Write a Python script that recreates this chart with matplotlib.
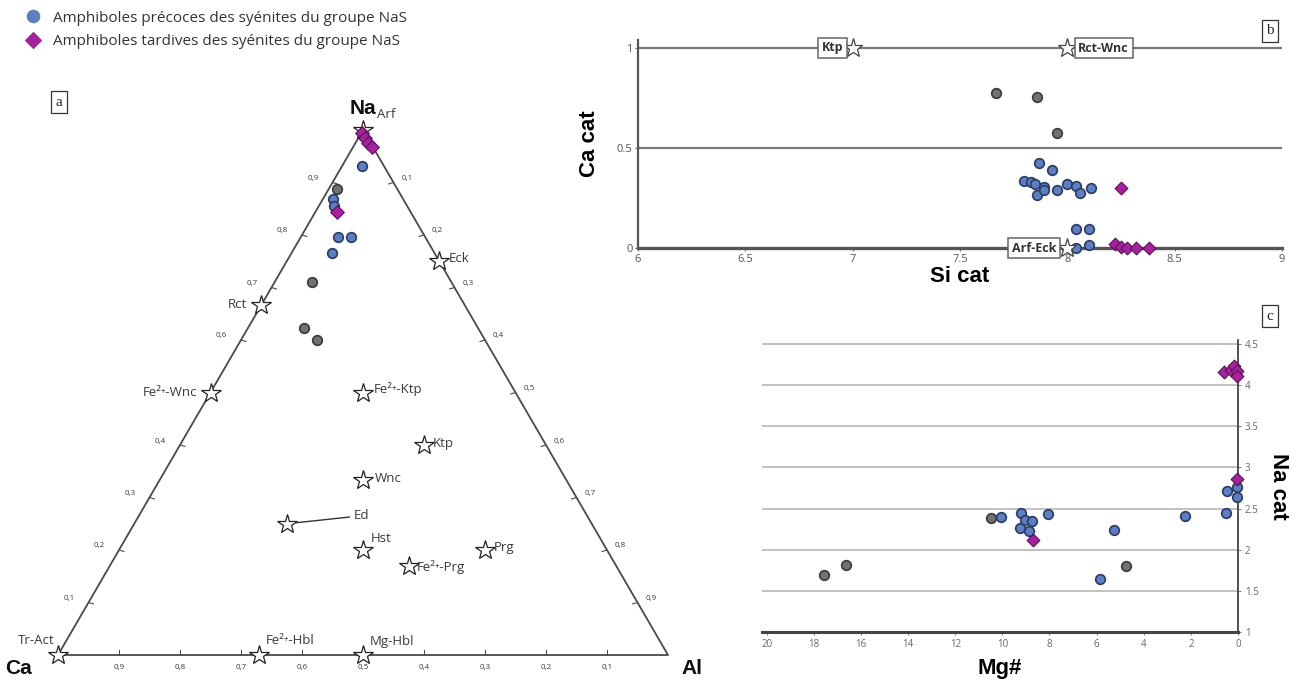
import numpy as np
import matplotlib
matplotlib.use("Agg")
import matplotlib.pyplot as plt
from matplotlib.lines import Line2D

plt.rcParams['font.family'] = ['Open Sans', 'DejaVu Sans']

# ---------------- data ----------------
# Ternary (a): fractions Na, Ca, Al
pre_na = [0.931, 0.869, 0.855, 0.796, 0.796, 0.766]
pre_ca = [0.036, 0.115, 0.120, 0.143, 0.122, 0.168]
pre_al = [0.033, 0.016, 0.025, 0.061, 0.082, 0.066]
gry_na = [0.888, 0.710, 0.623, 0.600]
gry_ca = [0.099, 0.229, 0.285, 0.275]
gry_al = [0.013, 0.061, 0.092, 0.125]
tar_na = [0.994, 0.985, 0.975, 0.968, 0.844]
tar_ca = [0.005, 0.004, 0.004, 0.001, 0.121]
tar_al = [0.001, 0.011, 0.021, 0.031, 0.035]

em_names = ['Arf', 'Eck', 'Rct', 'Fe²⁺-Wnc', 'Fe²⁺-Ktp', 'Ktp', 'Wnc', 'Ed',
            'Hst', 'Prg', 'Fe²⁺-Prg', 'Tr-Act', 'Fe²⁺-Hbl', 'Mg-Hbl']
em_na = [1.0, 0.75, 0.667, 0.5, 0.5, 0.4, 0.333, 0.25, 0.2, 0.2, 0.17, 0.0, 0.0, 0.0]
em_ca = [0.0, 0.0, 0.333, 0.5, 0.25, 0.2, 0.333, 0.5, 0.4, 0.2, 0.34, 1.0, 0.67, 0.5]
em_al = [0.0, 0.25, 0.0, 0.0, 0.25, 0.4, 0.333, 0.25, 0.4, 0.6, 0.49, 0.0, 0.33, 0.5]
tern_ticks = [0.1, 0.2, 0.3, 0.4, 0.5, 0.6, 0.7, 0.8, 0.9]

# Panel b: Si cat vs Ca cat
b_pre_si = [7.87, 7.93, 7.80, 7.83, 7.85, 7.86, 7.89, 7.89, 7.95, 8.00, 8.04, 8.06, 8.11, 8.04, 8.10, 8.04, 8.10]
b_pre_ca = [0.427, 0.392, 0.333, 0.330, 0.322, 0.263, 0.305, 0.288, 0.292, 0.318, 0.308, 0.275, 0.300, 0.093, 0.093, 0.0, 0.017]
b_gry_si = [7.67, 7.86, 7.95]
b_gry_ca = [0.777, 0.755, 0.575]
b_tar_si = [8.25, 8.22, 8.25, 8.28, 8.32, 8.38]
b_tar_ca = [0.30, 0.02, 0.005, 0.0, 0.0, 0.0]
b_ref_names = ['Ktp', 'Rct-Wnc', 'Arf-Eck']
b_ref_si = [7.0, 8.0, 8.0]
b_ref_ca = [1.0, 1.0, 0.0]
b_xticks = [6, 6.5, 7, 7.5, 8, 8.5, 9]
b_yticks = [0, 0.5, 1]

# Panel c: Mg# vs Na cat
c_pre_mg = [5.84, 5.25, 10.07, 9.21, 9.24, 9.06, 8.75, 8.86, 8.08, 2.26, 0.53, 0.45, 0.05, 0.05]
c_pre_na = [1.65, 2.24, 2.40, 2.45, 2.27, 2.36, 2.35, 2.23, 2.43, 2.41, 2.45, 2.72, 2.76, 2.64]
c_gry_mg = [17.55, 16.63, 4.75, 10.49]
c_gry_na = [1.69, 1.81, 1.80, 2.38]
c_tar_mg = [8.72, 0.05, 0.60, 0.30, 0.18, 0.05, 0.05]
c_tar_na = [2.12, 2.86, 4.16, 4.19, 4.23, 4.17, 4.11]
c_xticks = [20, 18, 16, 14, 12, 10, 8, 6, 4, 2, 0]
c_yticks = [1, 1.5, 2, 2.5, 3, 3.5, 4, 4.5]

# ---------------- styles ----------------
BLUE, BLUE_E = '#5b7fc0', '#2b3a66'
GRAY, GRAY_E = '#727272', '#3a3a3a'
MAG, MAG_E = '#a4239c', '#5c0f57'
TXT = '#3a3a3a'
W, H = 1301, 684
BOLD = ['Liberation Sans', 'DejaVu Sans']

fig = plt.figure(figsize=(W / 100, H / 100), dpi=100)
fig.patch.set_facecolor('white')


def fax(l, b, r, t):
    return [l / W, 1 - b / H, (r - l) / W, (b - t) / H]


def tern(na, ca, al):
    na, ca, al = np.asarray(na, float), np.asarray(ca, float), np.asarray(al, float)
    s = na + ca + al
    return (al + na / 2) / s, (na / s) * np.sqrt(3) / 2


# ---------------- panel a: ternary ----------------
axa = fig.add_axes(fax(58, 655, 668, 130))
axa.set_xlim(0, 1)
axa.set_ylim(0, np.sqrt(3) / 2)
axa.axis('off')

vx, vy = tern([1, 0, 0, 1], [0, 1, 0, 0], [0, 0, 1, 0])
axa.plot(vx, vy, color='#4a4a4a', lw=1.3, clip_on=False, zorder=1)

tk = 0.008
for v in tern_ticks:
    lab = ('%.1f' % v).replace('.', ',')
    # left edge (Na fraction)
    x, y = tern(v, 1 - v, 0)
    axa.plot([x, x + tk], [y, y - tk * 0.3], color='#4a4a4a', lw=0.8, clip_on=False)
    if abs(v - 0.5) > 1e-6:
        axa.annotate(lab, (x, y), xytext=(-14, 4), textcoords='offset pixels',
                     fontsize=5.8, color=TXT, ha='right', va='center')
    # right edge (Al fraction)
    x, y = tern(1 - v, 0, v)
    axa.plot([x, x - tk], [y, y - tk * 0.3], color='#4a4a4a', lw=0.8, clip_on=False)
    axa.annotate(lab, (x, y), xytext=(8, 4), textcoords='offset pixels',
                 fontsize=5.8, color=TXT, ha='left', va='center')
    # bottom edge (Ca fraction)
    x, y = tern(0, v, 1 - v)
    axa.plot([x, x], [y, y + tk], color='#4a4a4a', lw=0.8, clip_on=False)
    axa.annotate(lab, (x, y), xytext=(0, -13), textcoords='offset pixels',
                 fontsize=5.8, color=TXT, ha='center', va='center')

label_off = {
    'Arf': (14, 16, 'left'), 'Eck': (9, 3, 'left'), 'Rct': (-14, 0, 'right'),
    'Fe²⁺-Wnc': (-13, 0, 'right'), 'Fe²⁺-Ktp': (11, 3, 'left'),
    'Ktp': (9, 1, 'left'), 'Wnc': (12, 1, 'left'), 'Ed': (67, 8, 'left'),
    'Hst': (8, 12, 'left'), 'Prg': (9, 2, 'left'), 'Fe²⁺-Prg': (8, -1, 'left'),
    'Tr-Act': (-4, 15, 'right'), 'Fe²⁺-Hbl': (6, 14, 'left'), 'Mg-Hbl': (7, 14, 'left'),
}
ex, ey = tern(em_na, em_ca, em_al)
axa.plot(ex, ey, ls='none', marker='*', ms=15, mfc='white', mec='#222222', mew=0.9,
         clip_on=False, zorder=3)
for name, x, y in zip(em_names, ex, ey):
    dx, dy, ha = label_off[name]
    kw = dict(xytext=(dx, dy), textcoords='offset pixels', fontsize=9.5, color=TXT,
              ha=ha, va='center', family=['Open Sans', 'DejaVu Sans'])
    if name == 'Ed':
        kw['arrowprops'] = dict(arrowstyle='-', color='#333333', lw=1.0, shrinkA=1, shrinkB=7)
    axa.annotate(name, (x, y), **kw)

px, py = tern(pre_na, pre_ca, pre_al)
gx, gy = tern(gry_na, gry_ca, gry_al)
tx, ty = tern(tar_na, tar_ca, tar_al)
axa.scatter(gx, gy, s=48, c=GRAY, edgecolors=GRAY_E, linewidths=1.2, zorder=4, clip_on=False)
axa.scatter(px, py, s=48, c=BLUE, edgecolors=BLUE_E, linewidths=1.2, zorder=4, clip_on=False)
axa.scatter(tx, ty, s=48, c=MAG, marker='D', edgecolors=MAG_E, linewidths=0.8, zorder=5,
            clip_on=False)

for lab, i, off in [('Na', 0, (0, 22)), ('Ca', 1, (-40, -14)), ('Al', 2, (24, -14))]:
    axa.annotate(lab, (vx[i], vy[i]), xytext=off, textcoords='offset pixels',
                 fontsize=15, fontweight='bold', ha='center', va='center',
                 color='#111111', family=BOLD)

# ---------------- panel b ----------------
axb = fig.add_axes(fax(638, 248, 1282, 40))
axb.set_xlim(6, 9)
axb.set_ylim(0, 1.04)
for yv in b_yticks[1:]:
    axb.axhline(yv, color='#7a7a7a', lw=1.6, zorder=0)
for s in ['top', 'right']:
    axb.spines[s].set_visible(False)
axb.spines['left'].set_color('#555555')
axb.spines['left'].set_linewidth(1.6)
axb.spines['bottom'].set_color('#555555')
axb.spines['bottom'].set_linewidth(2.4)
axb.set_xticks(b_xticks)
axb.set_xticklabels([('%g' % v) for v in b_xticks])
axb.set_yticks(b_yticks)
axb.set_yticklabels([('%g' % v) for v in b_yticks])
axb.tick_params(labelsize=8, colors='#555555', length=2, width=0.6, pad=2)
axb.set_xlabel('Si cat', fontsize=16, fontweight='bold', labelpad=1, family=BOLD)
axb.set_ylabel('Ca cat', fontsize=16, fontweight='bold', labelpad=12, family=BOLD)

axb.scatter(b_gry_si, b_gry_ca, s=48, c=GRAY, edgecolors=GRAY_E, linewidths=1.2, zorder=4,
            clip_on=False)
axb.scatter(b_pre_si, b_pre_ca, s=48, c=BLUE, edgecolors=BLUE_E, linewidths=1.2, zorder=4,
            clip_on=False)
axb.scatter(b_tar_si, b_tar_ca, s=42, c=MAG, marker='D', edgecolors=MAG_E, linewidths=0.8,
            zorder=5, clip_on=False)
axb.plot(b_ref_si, b_ref_ca, ls='none', marker='*', ms=14, mfc='white', mec='#444444',
         mew=0.9, clip_on=False, zorder=6)
b_ref_off = {'Ktp': (-9, 'right'), 'Rct-Wnc': (11, 'left'), 'Arf-Eck': (-11, 'right')}
for name, x, y in zip(b_ref_names, b_ref_si, b_ref_ca):
    dx, ha = b_ref_off[name]
    axb.annotate(name, (x, y), xytext=(dx, 0), textcoords='offset pixels', ha=ha,
                 va='center', fontsize=9, fontweight='bold', color='#333333', zorder=7,
                 family=['Open Sans', 'DejaVu Sans'],
                 bbox=dict(boxstyle='square,pad=0.3', fc='white', ec='#666666', lw=1.1))

# ---------------- panel c ----------------
axc = fig.add_axes(fax(762, 632, 1238, 340))
axc.set_xlim(20.2, 0)
axc.set_ylim(1, 4.55)
for yv in c_yticks[1:]:
    axc.axhline(yv, color='#b8b8b8', lw=1.2, zorder=0)
for s in ['top', 'left']:
    axc.spines[s].set_visible(False)
axc.spines['right'].set_color('#333333')
axc.spines['right'].set_linewidth(1.2)
axc.spines['bottom'].set_color('#444444')
axc.spines['bottom'].set_linewidth(2.2)
axc.yaxis.tick_right()
axc.yaxis.set_label_position('right')
axc.set_xticks(c_xticks)
axc.set_xticklabels([('%g' % v) for v in c_xticks])
axc.set_yticks(c_yticks)
axc.set_yticklabels([('%g' % v) for v in c_yticks])
axc.tick_params(labelsize=7, colors='#666666', length=2, width=0.6, pad=3)
axc.set_xlabel('Mg#', fontsize=16, fontweight='bold', labelpad=6, family=BOLD)
axc.set_ylabel('Na cat', fontsize=16, fontweight='bold', rotation=-90, labelpad=22,
               family=BOLD)
axc.scatter(c_gry_mg, c_gry_na, s=48, c=GRAY, edgecolors=GRAY_E, linewidths=1.2, zorder=4,
            clip_on=False)
axc.scatter(c_pre_mg, c_pre_na, s=48, c=BLUE, edgecolors=BLUE_E, linewidths=1.2, zorder=4,
            clip_on=False)
axc.scatter(c_tar_mg, c_tar_na, s=42, c=MAG, marker='D', edgecolors=MAG_E, linewidths=0.8,
            zorder=5, clip_on=False)

# ---------------- panel letters ----------------
for letter, (lx, ly) in zip(['a', 'b', 'c'], [(59, 102), (1270, 31), (1270, 316)]):
    fig.text(lx / W, 1 - ly / H, letter, fontsize=11, ha='center', va='center',
             family=['Liberation Serif', 'DejaVu Serif'], color='#222222',
             bbox=dict(boxstyle='square,pad=0.3', fc='white', ec='#333333', lw=0.9))

# ---------------- legend ----------------
handles = [
    Line2D([], [], ls='none', marker='o', ms=9, mfc=BLUE, mec=BLUE, mew=0.8),
    Line2D([], [], ls='none', marker='D', ms=8, mfc=MAG, mec=MAG, mew=0.8),
]
fig.legend(handles, ['Amphiboles précoces des syénites du groupe NaS',
                     'Amphiboles tardives des syénites du groupe NaS'],
           loc='upper left', bbox_to_anchor=(10 / W, 1 + 3 / H), frameon=False,
           fontsize=11, handletextpad=0.7, labelspacing=0.55, handlelength=1.2,
           labelcolor='#333333')

fig.savefig('out.png', dpi=100, facecolor='white')
